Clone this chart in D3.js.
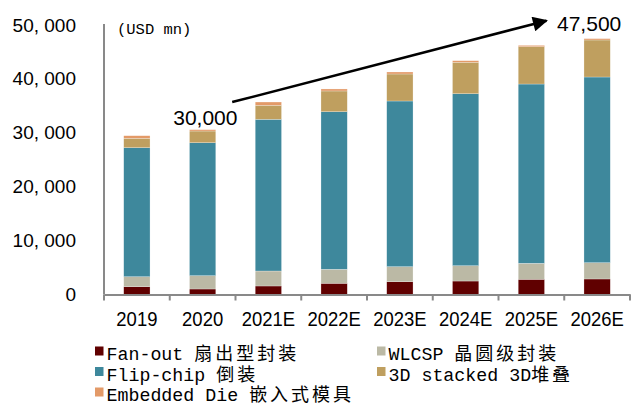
<!DOCTYPE html>
<html>
<head>
<meta charset="utf-8">
<script src="https://cdn.jsdelivr.net/npm/d3@7"></script>
<style>
  html, body { margin: 0; padding: 0; background: #fff; }
  svg { display: block; }
</style>
</head>
<body>
<svg id="chart" width="640" height="407"></svg>
<script>
// categories and series (USD mn)
var years     = ["2019", "2020", "2021E", "2022E", "2023E", "2024E", "2025E", "2026E"];
var fanOut    = [1450, 1020, 1580, 2080, 2370, 2500, 2820, 2880];
var wlcsp     = [1850, 2470, 2780, 2600, 2790, 2840, 2970, 3020];
var flipChip  = [23940, 24670, 28140, 29230, 30740, 31910, 33260, 34450];
var stacked3d = [1740, 2170, 2600, 3850, 5010, 5830, 6920, 6870];
var embedded  = [480, 250, 610, 370, 370, 300, 250, 250];

var seriesKeys   = ["fanOut", "wlcsp", "flipChip", "stacked3d", "embedded"];
var seriesLatin  = ["Fan-out ", "WLCSP ", "Flip-chip ", "3D stacked 3D", "Embedded Die "];
var seriesCjk    = ["扇出型封装", "晶圆级封装", "倒装", "堆叠", "嵌入式模具"];
var seriesColors = ["#600000", "#bbb9a5", "#3e889c", "#bf9f5f", "#e39a68"];
var yTicks       = [0, 10000, 20000, 30000, 40000, 50000];

// arrow annotation: [category position, value]
var arrowFrom  = [1.95, 35700];
var arrowTo    = [6.73, 50800];
var startLabel = "30,000";
var endLabel   = "47,500";

var svg = d3.select("#chart");
// note: "top" is a read-only window global, so use other names
var plotLeft = 104, plotRight = 630, plotTop = 25, plotBottom = 294.5;

// build table rows for the stack
var rows = years.map(function (yr, i) {
  return { year: yr, fanOut: fanOut[i], wlcsp: wlcsp[i], flipChip: flipChip[i],
           stacked3d: stacked3d[i], embedded: embedded[i] };
});
var stacked = d3.stack().keys(seriesKeys)(rows);

var x = d3.scaleBand().domain(years).range([plotLeft, plotRight]).paddingInner(0.6).paddingOuter(0.3);
var xPos = d3.scaleLinear().domain([0, years.length]).range([plotLeft, plotRight]); // for annotations
var y = d3.scaleLinear().domain([0, 50000]).range([plotBottom, plotTop]);

// bars
svg.append("g").selectAll("g")
  .data(stacked)
  .enter().append("g")
  .attr("fill", function (d, i) { return seriesColors[i]; })
  .selectAll("rect")
  .data(function (d) { return d; })
  .enter().append("rect")
  .attr("x", function (d) { return x(d.data.year); })
  .attr("width", x.bandwidth())
  .attr("y", function (d) { return y(d[1]); })
  .attr("height", function (d) { return y(d[0]) - y(d[1]); })
  .attr("stroke", "#ffffff")
  .attr("stroke-opacity", 0.5)
  .attr("stroke-width", 0.5);

// y axis: line plus labels
var yAxis = svg.append("g")
  .attr("transform", "translate(" + plotLeft + ",0)")
  .call(d3.axisLeft(y).tickValues(yTicks).tickSize(0).tickPadding(28)
    .tickFormat(function (d) { return d3.format(",")(d).replace(",", ", "); }));
yAxis.select(".domain").attr("stroke", "#898989").attr("stroke-width", 2)
  .attr("d", "M0," + (plotTop - 1) + "V" + plotBottom);
yAxis.selectAll("text")
  .attr("font-family", "Liberation Sans, Arial, sans-serif")
  .attr("font-size", 19)
  .attr("fill", "#000");

// x axis: labels at centres, ticks at category boundaries
var xAxis = svg.append("g")
  .attr("transform", "translate(0," + plotBottom + ")")
  .call(d3.axisBottom(x).tickSize(0).tickPadding(0));
xAxis.select(".domain").attr("stroke", "#898989").attr("stroke-width", 2);
xAxis.selectAll("text")
  .attr("font-family", "Liberation Sans, Arial, sans-serif")
  .attr("font-size", 21)
  .attr("fill", "#000")
  .attr("dy", 0)
  .attr("y", 31.5)
  .attr("transform", "scale(0.88,1)");

var bounds = years.map(function (d) { return x(d) - (x.step() - x.bandwidth()) / 2; });
bounds.push(bounds[bounds.length - 1] + x.step());
xAxis.selectAll("line.bound")
  .data(bounds)
  .enter().append("line")
  .attr("class", "bound")
  .attr("x1", function (d) { return d; })
  .attr("x2", function (d) { return d; })
  .attr("y1", 0)
  .attr("y2", 6)
  .attr("stroke", "#898989")
  .attr("stroke-width", 2);

// unit label
svg.append("text")
  .attr("x", 117)
  .attr("y", 34)
  .attr("font-family", "Liberation Mono, monospace")
  .attr("font-size", 15.5)
  .text("(USD mn)");

// arrow
svg.append("defs").append("marker")
  .attr("id", "head")
  .attr("viewBox", "0 0 10 10")
  .attr("refX", 9)
  .attr("refY", 5)
  .attr("markerUnits", "userSpaceOnUse")
  .attr("markerWidth", 17)
  .attr("markerHeight", 15)
  .attr("orient", "auto")
  .append("path")
  .attr("d", "M0,0L10,5L0,10Z")
  .attr("fill", "#000");

svg.append("line")
  .attr("x1", xPos(arrowFrom[0]))
  .attr("y1", y(arrowFrom[1]))
  .attr("x2", xPos(arrowTo[0]))
  .attr("y2", y(arrowTo[1]))
  .attr("stroke", "#000")
  .attr("stroke-width", 2.5)
  .attr("marker-end", "url(#head)");

svg.append("text")
  .attr("x", xPos(2.03))
  .attr("y", y(31400))
  .attr("text-anchor", "end")
  .attr("font-family", "Liberation Sans, Arial, sans-serif")
  .attr("font-size", 21)
  .text(startLabel);

svg.append("text")
  .attr("x", xPos(6.89))
  .attr("y", y(48900))
  .attr("font-family", "Liberation Sans, Arial, sans-serif")
  .attr("font-size", 21)
  .text(endLabel);

// legend, two columns
var legendCols = [95, 377], legendRows = [360, 380.5, 401];
var legend = svg.append("g").selectAll("g")
  .data(seriesKeys)
  .enter().append("g")
  .attr("transform", function (d, i) {
    return "translate(" + legendCols[i % 2] + "," + legendRows[Math.floor(i / 2)] + ")";
  });

legend.append("rect")
  .attr("x", 0)
  .attr("y", -13.5)
  .attr("width", 8.5)
  .attr("height", 9)
  .attr("fill", function (d, i) { return seriesColors[i]; });

var lt = legend.append("text")
  .attr("x", 11.5)
  .attr("y", 0)
  .attr("fill", "#000");
lt.append("tspan")
  .attr("font-family", "Liberation Mono, monospace")
  .attr("font-size", 18.3)
  .text(function (d, i) { return seriesLatin[i]; });
lt.append("tspan")
  .attr("font-family", "Noto Sans CJK SC, sans-serif")
  .attr("font-size", 18)
  .attr("letter-spacing", 3)
  .text(function (d, i) { return seriesCjk[i]; });
</script>
</body>
</html>
